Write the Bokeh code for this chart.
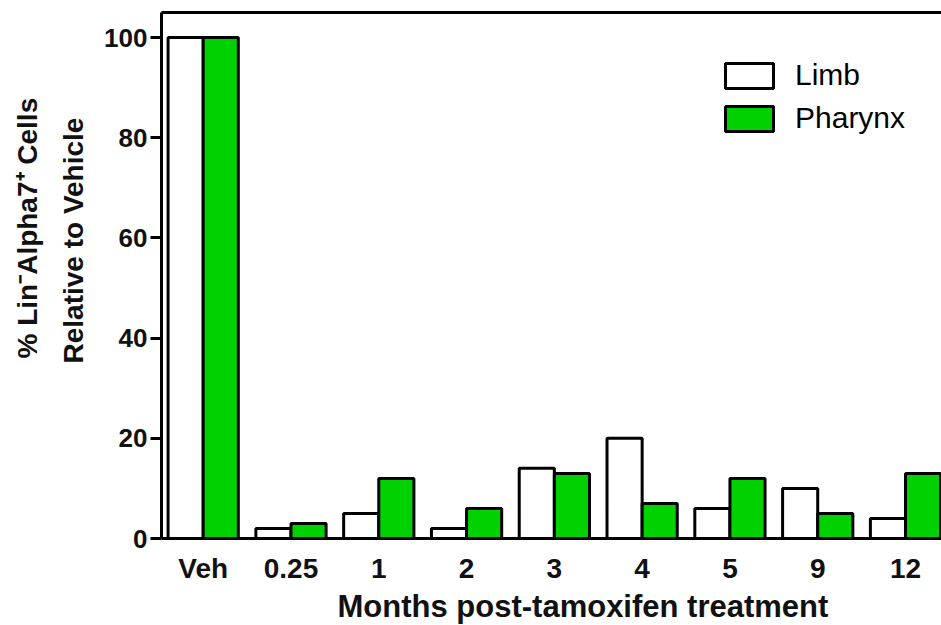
from bokeh.plotting import figure
from bokeh.models import (ColumnDataSource, Range1d, LinearAxis, FixedTicker,
                          Legend, LegendItem, Title)
from bokeh.transform import dodge
from bokeh.embed import file_html
from bokeh.resources import INLINE

# ---- data ----
categories = ["Veh", "0.25", "1", "2", "3", "4", "5", "9", "12"]
limb = [100, 2, 5, 2, 14, 20, 6, 10, 4]
pharynx = [100, 3, 12, 6, 13, 7, 12, 5, 13]
y_ticks = [0, 20, 40, 60, 80, 100]
series_names = ["Limb", "Pharynx"]
x_title = "Months post-tamoxifen treatment"
y_title_1 = "% Lin\u207bAlpha7\u207a Cells"
y_title_2 = "Relative to Vehicle"

GREEN = "#00D100"
INK = "#111111"
FONT = "Liberation Sans"

idx = list(range(len(categories)))
src = ColumnDataSource(dict(x=idx, limb=limb, pharynx=pharynx))

p = figure(width=941, height=625, output_backend="svg", toolbar_location=None,
           x_range=Range1d(-0.475, 8.41), y_range=Range1d(0, 105),
           min_border_left=161, min_border_right=0, min_border_top=12,
           min_border_bottom=87)
p.grid.visible = False
p.outline_line_color = None
p.background_fill_color = "white"
p.border_fill_color = "white"

r_limb = p.vbar(x=dodge("x", -0.2), top="limb", width=0.4, source=src,
                fill_color="white", line_color="black", line_width=3)
r_phar = p.vbar(x=dodge("x", 0.2), top="pharynx", width=0.4, source=src,
                fill_color=GREEN, line_color="black", line_width=3)

# y axis
ya = p.yaxis[0]
ya.ticker = FixedTicker(ticks=y_ticks)
ya.minor_tick_line_color = None
ya.major_tick_in = 0
ya.major_tick_out = 11
ya.major_tick_line_width = 3
ya.axis_line_width = 3
ya.axis_line_color = "black"
ya.major_label_standoff = 3
ya.major_label_text_font = FONT
ya.major_label_text_font_style = "bold"
ya.major_label_text_font_size = "26px"
ya.major_label_text_color = INK

# x axis
xa = p.xaxis[0]
xa.ticker = FixedTicker(ticks=idx)
xa.major_label_overrides = {i: c for i, c in zip(idx, categories)}
xa.major_tick_line_color = None
xa.minor_tick_line_color = None
xa.major_tick_in = 0
xa.major_tick_out = 0
xa.axis_line_width = 3
xa.axis_line_color = "black"
xa.major_label_standoff = 14
xa.major_label_text_font = FONT
xa.major_label_text_font_style = "bold"
xa.major_label_text_font_size = "28px"
xa.major_label_text_color = INK

# top frame line
top_axis = LinearAxis(ticker=FixedTicker(ticks=[]), axis_line_width=3,
                      axis_line_color="black", major_tick_line_color=None,
                      minor_tick_line_color=None, major_tick_out=0,
                      minor_tick_out=0, major_label_text_font_size="0px")
p.add_layout(top_axis, "above")

# axis titles
tx = Title(text=x_title, align="left", offset=176, standoff=0,
           text_font=FONT, text_font_style="bold", text_font_size="31px",
           text_color=INK)
p.add_layout(tx, "below")

ty2 = Title(text=y_title_2, align="left", offset=175, standoff=26,
            text_font=FONT, text_font_style="bold", text_font_size="28px",
            text_color=INK)
ty1 = Title(text=y_title_1, align="left", offset=180, standoff=0,
            text_font=FONT, text_font_style="bold", text_font_size="28px",
            text_color=INK)
p.add_layout(ty2, "left")
p.add_layout(ty1, "left")

legend = Legend(items=[LegendItem(label=series_names[0], renderers=[r_limb]),
                       LegendItem(label=series_names[1], renderers=[r_phar])],
                location=(558, 403), padding=0, margin=0, spacing=9,
                glyph_width=60, glyph_height=31, label_standoff=16,
                label_text_font=FONT, label_text_font_size="30px",
                label_text_color="black", border_line_color=None,
                background_fill_alpha=0)
p.add_layout(legend)

open("out.html", "w").write(file_html(p, INLINE))
